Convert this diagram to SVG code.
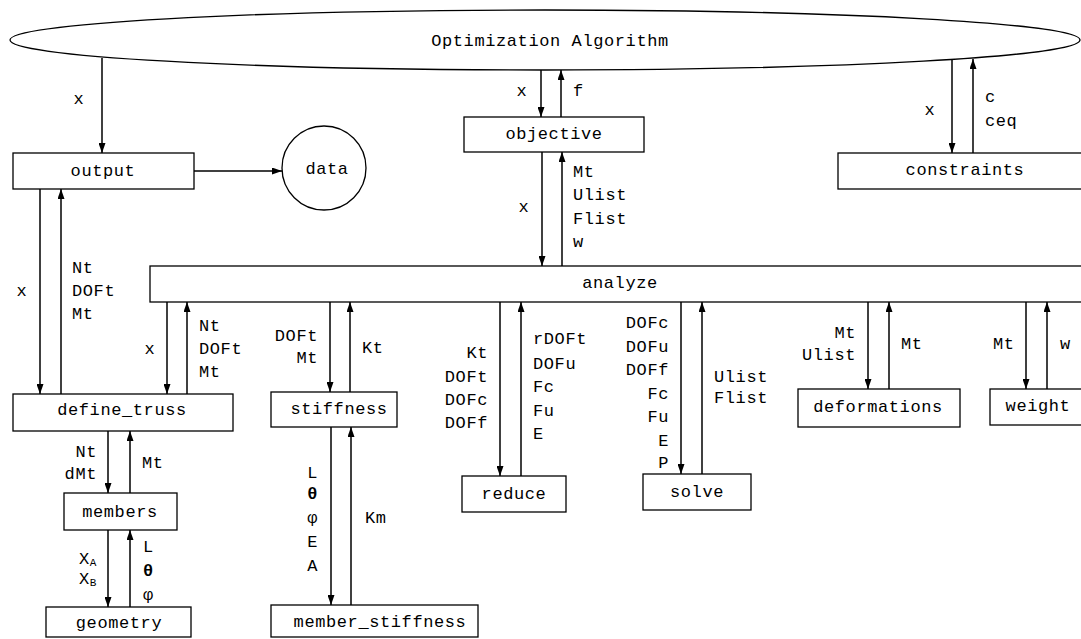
<svg xmlns="http://www.w3.org/2000/svg" width="1081" height="639" viewBox="0 0 1081 639">
<defs>
<style>
.bg{fill:#fff}
.box{fill:#fff;stroke:#000;stroke-width:1.3}
.t{font-family:"Liberation Mono","Courier New",monospace;font-size:17px;letter-spacing:0.6px;fill:#000}
.m{text-anchor:middle}
.e{text-anchor:end}
.c{stroke:#000;stroke-width:1.5;fill:none;marker-end:url(#ah)}
</style>
<marker id="ah" markerWidth="10" markerHeight="7" refX="10" refY="3.5" orient="auto" markerUnits="userSpaceOnUse">
<path d="M0,0 L10,3.5 L0,7 z" fill="#000"/>
</marker>
</defs>
<rect class="bg" x="0" y="0" width="1081" height="639"/>

<g id="optimization_algorithm">
<ellipse class="box" cx="545" cy="40" rx="535" ry="30"/>
<text class="t m" x="550" y="46">Optimization Algorithm</text>
</g>
<g id="objective">
<rect class="box" x="464" y="117" width="180" height="35"/>
<text class="t m" x="554" y="139">objective</text>
</g>
<g id="constraints">
<rect class="box" x="838" y="153" width="260" height="36"/>
<text class="t m" x="965" y="175">constraints</text>
</g>
<g id="output">
<rect class="box" x="13" y="153" width="181" height="36"/>
<text class="t m" x="103" y="176">output</text>
</g>
<g id="data">
<circle class="box" cx="324" cy="168" r="42"/>
<text class="t m" x="327" y="174">data</text>
</g>
<g id="analyze">
<rect class="box" x="150" y="266" width="950" height="36"/>
<text class="t m" x="620" y="288">analyze</text>
</g>
<g id="define_truss">
<rect class="box" x="13" y="394" width="220" height="37"/>
<text class="t m" x="122" y="415">define_truss</text>
</g>
<g id="stiffness">
<rect class="box" x="271" y="392" width="126" height="35"/>
<text class="t m" x="339" y="414">stiffness</text>
</g>
<g id="reduce">
<rect class="box" x="462" y="476" width="104" height="36"/>
<text class="t m" x="514" y="499">reduce</text>
</g>
<g id="solve">
<rect class="box" x="643" y="474" width="108" height="36"/>
<text class="t m" x="697" y="497">solve</text>
</g>
<g id="deformations">
<rect class="box" x="798" y="389" width="162" height="38"/>
<text class="t m" x="878" y="412">deformations</text>
</g>
<g id="weight">
<rect class="box" x="990" y="389" width="100" height="36"/>
<text class="t m" x="1038" y="411">weight</text>
</g>
<g id="members">
<rect class="box" x="64" y="493" width="113" height="37"/>
<text class="t m" x="120" y="517">members</text>
</g>
<g id="geometry">
<rect class="box" x="46" y="607" width="145" height="30"/>
<text class="t m" x="119" y="628">geometry</text>
</g>
<g id="member_stiffness">
<rect class="box" x="271" y="605" width="207" height="32"/>
<text class="t m" x="380" y="627">member_stiffness</text>
</g>

<g id="connectors">
<path class="c" d="M102,58 V153"/>
<path class="c" d="M194,171 H282"/>
<path class="c" d="M541,70 V117"/>
<path class="c" d="M561,117 V70"/>
<path class="c" d="M952,60 V153"/>
<path class="c" d="M973,153 V59"/>
<path class="c" d="M542,152 V266"/>
<path class="c" d="M562,266 V152"/>
<path class="c" d="M40,189 V394"/>
<path class="c" d="M61,394 V189"/>
<path class="c" d="M167,302 V394"/>
<path class="c" d="M187,394 V302"/>
<path class="c" d="M330,302 V392"/>
<path class="c" d="M350,392 V302"/>
<path class="c" d="M500,302 V476"/>
<path class="c" d="M521,476 V302"/>
<path class="c" d="M681,302 V474"/>
<path class="c" d="M702,474 V302"/>
<path class="c" d="M868,302 V389"/>
<path class="c" d="M889,389 V302"/>
<path class="c" d="M1026,302 V389"/>
<path class="c" d="M1047,389 V302"/>
<path class="c" d="M108,431 V493"/>
<path class="c" d="M130,493 V431"/>
<path class="c" d="M108,530 V607"/>
<path class="c" d="M130,607 V530"/>
<path class="c" d="M331,427 V605"/>
<path class="c" d="M351,605 V427"/>
</g>

<g id="labels">
<text class="t m" x="79" y="104">x</text>
<text class="t m" x="522" y="96">x</text>
<text class="t" x="573" y="96">f</text>
<text class="t m" x="930" y="115">x</text>
<text class="t" x="985" y="102">c</text>
<text class="t" x="985" y="126">ceq</text>

<text class="t m" x="524" y="212">x</text>
<text class="t" x="573" y="177">Mt</text>
<text class="t" x="573" y="200">Ulist</text>
<text class="t" x="573" y="224">Flist</text>
<text class="t" x="573" y="247">w</text>

<text class="t m" x="22" y="296">x</text>
<text class="t" x="72" y="273">Nt</text>
<text class="t" x="72" y="296">DOFt</text>
<text class="t" x="72" y="319">Mt</text>

<text class="t m" x="150" y="354">x</text>
<text class="t" x="199" y="331">Nt</text>
<text class="t" x="199" y="354">DOFt</text>
<text class="t" x="199" y="377">Mt</text>

<text class="t e" x="318" y="341">DOFt</text>
<text class="t e" x="318" y="363">Mt</text>
<text class="t" x="362" y="353">Kt</text>

<text class="t e" x="488" y="358">Kt</text>
<text class="t e" x="488" y="382">DOFt</text>
<text class="t e" x="488" y="405">DOFc</text>
<text class="t e" x="488" y="428">DOFf</text>
<text class="t" x="533" y="344">rDOFt</text>
<text class="t" x="533" y="369">DOFu</text>
<text class="t" x="533" y="392">Fc</text>
<text class="t" x="533" y="416">Fu</text>
<text class="t" x="533" y="439">E</text>

<text class="t e" x="669" y="328">DOFc</text>
<text class="t e" x="669" y="352">DOFu</text>
<text class="t e" x="669" y="375">DOFf</text>
<text class="t e" x="669" y="399">Fc</text>
<text class="t e" x="669" y="422">Fu</text>
<text class="t e" x="669" y="446">E</text>
<text class="t e" x="669" y="468">P</text>
<text class="t" x="714" y="382">Ulist</text>
<text class="t" x="714" y="403">Flist</text>

<text class="t e" x="856" y="338">Mt</text>
<text class="t e" x="856" y="360">Ulist</text>
<text class="t" x="901" y="349">Mt</text>

<text class="t" x="993" y="349">Mt</text>
<text class="t" x="1060" y="349">w</text>

<text class="t e" x="97" y="457">Nt</text>
<text class="t e" x="97" y="479">dMt</text>
<text class="t" x="142" y="468">Mt</text>

<text class="t e" x="97" y="564">X<tspan font-size="11" dy="2">A</tspan></text>
<text class="t e" x="97" y="584">X<tspan font-size="11" dy="2">B</tspan></text>
<text class="t" x="143" y="552">L</text>
<text class="t" x="143" y="576" font-weight="bold">θ</text>
<text class="t" x="143" y="600">φ</text>

<text class="t e" x="318" y="478">L</text>
<text class="t e" x="318" y="499" font-weight="bold">θ</text>
<text class="t e" x="318" y="523">φ</text>
<text class="t e" x="318" y="547">E</text>
<text class="t e" x="318" y="571">A</text>
<text class="t" x="365" y="523">Km</text>
</g>
</svg>
